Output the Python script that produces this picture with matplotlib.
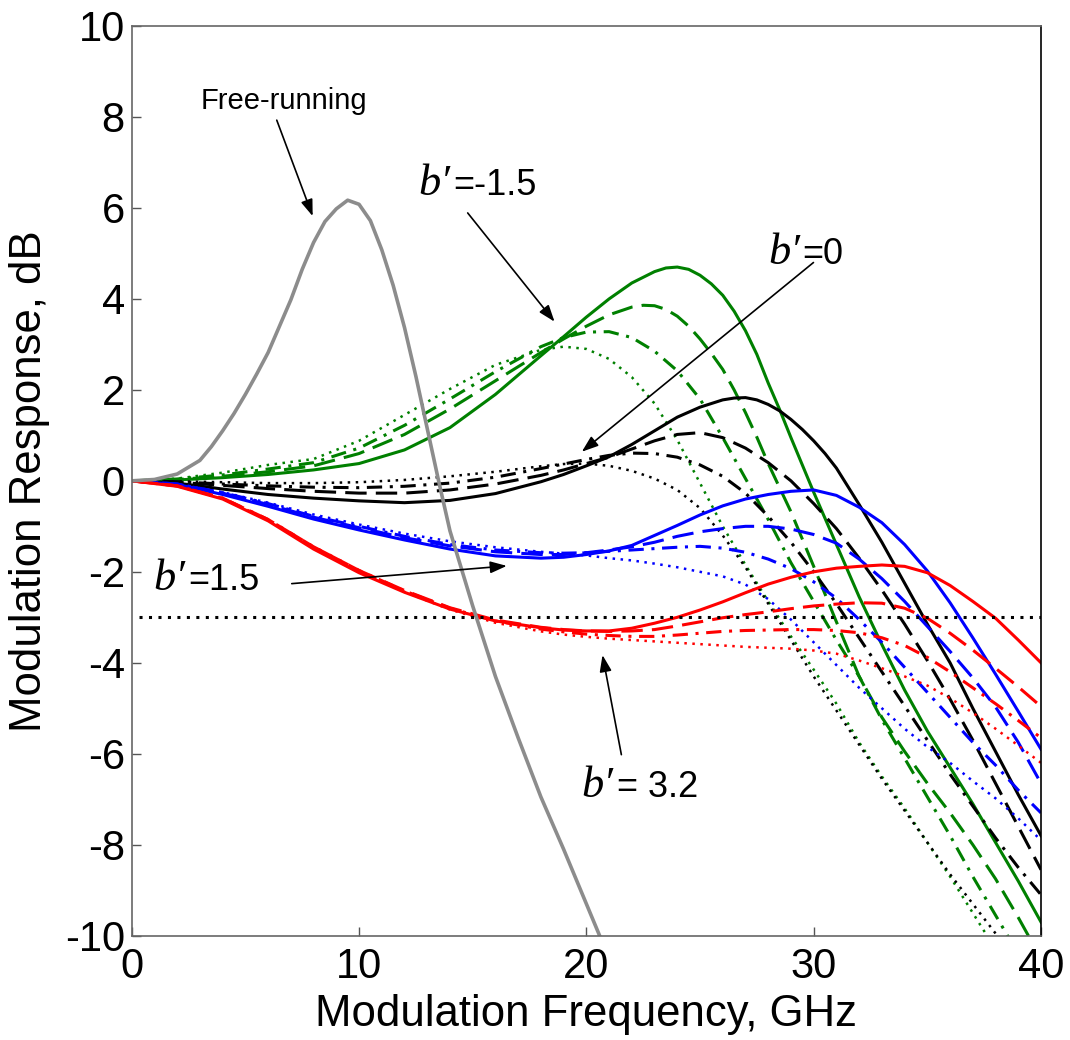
import numpy as np
import matplotlib.pyplot as plt

plt.rcParams['font.family'] = ['Liberation Sans', 'DejaVu Sans']
plt.rcParams['axes.unicode_minus'] = False

# modulation frequency grid (GHz) for the injection-locked curves
freq = [0, 2, 4, 6, 8, 10, 12, 14, 16, 18, 19, 20, 21, 22, 23, 24, 25, 26,
        27, 28, 29, 30, 31, 32, 33, 34, 35, 36, 37, 38, 39, 40]

# b' = -1.5 (green)
green_solid = [0, 0.02, 0.07, 0.14, 0.24, 0.38, 0.68, 1.17, 1.9, 2.75, 3.17, 3.6, 4.0, 4.35,
               4.6, 4.7, 4.52, 4.08, 3.3, 2.15, 0.95, -0.25, -1.4, -2.55, -3.6, -4.6, -5.5,
               -6.3, -7.1, -7.95, -8.8, -9.7]
green_dash = [0, 0.03, 0.1, 0.2, 0.33, 0.6, 1.02, 1.58, 2.2, 2.82, 3.12, 3.4, 3.65, 3.82,
              3.85, 3.62, 3.12, 2.45, 1.5, 0.38, -0.68, -1.88, -3.1, -4.3, -5.2, -5.95,
              -6.65, -7.3, -8.0, -8.75, -9.6, -10.5]
green_dashdot = [0, 0.04, 0.13, 0.26, 0.4, 0.72, 1.22, 1.8, 2.4, 2.95, 3.15, 3.27, 3.28, 3.15,
                 2.85, 2.42, 1.8, 0.95, 0.05, -0.85, -1.8, -2.65, -3.5, -4.3, -5.25, -6.1,
                 -6.95, -7.8, -8.7, -9.55, -10.4, -11.2]
green_dot = [0, 0.05, 0.18, 0.35, 0.48, 0.88, 1.45, 2.02, 2.55, 2.88, 2.95, 2.9, 2.68, 2.28,
             1.7, 0.9, -0.05, -1.0, -1.85, -2.65, -3.42, -4.15, -4.9, -5.75, -6.5, -7.2,
             -7.95, -8.7, -9.5, -10.3, -11.1, -11.9]

# extra readings around the sharp green peaks
green_solid_xf = [23.5, 24.5, 25.5, 26.5, 27.5, 28.5]
green_solid_x = [4.68, 4.65, 4.33, 3.73, 2.78, 1.57]
green_dash_xf = [22.5, 23.5, 24.5, 25.5, 26.5, 27.5]
green_dash_x = [3.86, 3.77, 3.4, 2.8, 2.0, 0.96]

# b' = 0 (black)
black_solid = [0, -0.05, -0.18, -0.3, -0.38, -0.44, -0.48, -0.43, -0.28, -0.02, 0.14, 0.33,
               0.53, 0.8, 1.1, 1.4, 1.62, 1.78, 1.83, 1.68, 1.35, 0.88, 0.28, -0.52, -1.35,
               -2.25, -3.15, -4.0, -5.0, -5.95, -6.9, -7.8]
black_dash = [0, -0.03, -0.1, -0.17, -0.23, -0.27, -0.27, -0.2, -0.07, 0.12, 0.24, 0.38, 0.52,
              0.7, 0.88, 1.02, 1.06, 0.95, 0.72, 0.4, 0.0, -0.5, -1.05, -1.7, -2.4, -3.15,
              -3.95, -4.8, -5.7, -6.65, -7.6, -8.55]
black_dashdot = [0, -0.02, -0.07, -0.11, -0.14, -0.15, -0.12, -0.05, 0.08, 0.27, 0.37, 0.47,
                 0.56, 0.61, 0.6, 0.52, 0.35, 0.1, -0.27, -0.78, -1.35, -2.0, -2.7, -3.45,
                 -4.2, -4.95, -5.7, -6.45, -7.15, -7.85, -8.5, -9.1]
black_dot = [0, -0.01, -0.03, -0.05, -0.05, -0.03, 0.02, 0.1, 0.2, 0.32, 0.37, 0.38, 0.33,
             0.22, 0.05, -0.2, -0.6, -1.2, -1.9, -2.7, -3.5, -4.3, -5.05, -5.8, -6.55, -7.25,
             -7.95, -8.65, -9.3, -9.95, -10.6, -11.2]

black_solid_xf = [26.5, 27.5, 28.5, 29.5, 30.5]
black_solid_x = [1.82, 1.78, 1.54, 1.13, 0.6]

# b' = 1.5 (blue)
blue_solid = [0, -0.08, -0.3, -0.56, -0.84, -1.08, -1.3, -1.5, -1.65, -1.7, -1.68, -1.62,
              -1.54, -1.42, -1.2, -0.98, -0.75, -0.55, -0.4, -0.3, -0.23, -0.2, -0.32, -0.58,
              -0.92, -1.4, -1.98, -2.68, -3.45, -4.25, -5.07, -5.9]
blue_dash = [0, -0.07, -0.27, -0.52, -0.8, -1.03, -1.25, -1.43, -1.56, -1.62, -1.62, -1.58,
             -1.52, -1.45, -1.35, -1.22, -1.12, -1.05, -1.0, -1.0, -1.06, -1.18, -1.37, -1.72,
             -2.15, -2.65, -3.2, -3.75, -4.33, -4.97, -5.75, -6.65]
blue_dashdot = [0, -0.07, -0.26, -0.5, -0.78, -1.0, -1.22, -1.4, -1.52, -1.58, -1.59, -1.58,
                -1.55, -1.52, -1.49, -1.46, -1.44, -1.48, -1.57, -1.72, -1.93, -2.22, -2.58,
                -3.05, -3.55, -4.1, -4.65, -5.2, -5.75, -6.25, -6.8, -7.3]
blue_dot = [0, -0.07, -0.25, -0.48, -0.74, -0.96, -1.16, -1.33, -1.46, -1.56, -1.6, -1.64,
            -1.7, -1.75, -1.82, -1.9, -2.0, -2.1, -2.28, -2.6, -3.05, -3.55, -4.05, -4.55,
            -5.0, -5.45, -5.85, -6.2, -6.6, -6.98, -7.42, -7.9]

# b' = 3.2 (red)
red_solid = [0, -0.12, -0.4, -0.88, -1.5, -2.02, -2.45, -2.82, -3.08, -3.23, -3.28, -3.3,
             -3.3, -3.24, -3.13, -3.0, -2.84, -2.66, -2.46, -2.27, -2.12, -2.0, -1.92, -1.88,
             -1.85, -1.88, -2.02, -2.3, -2.65, -3.02, -3.5, -4.0]
red_dash = [0, -0.11, -0.38, -0.85, -1.45, -1.97, -2.41, -2.79, -3.06, -3.22, -3.27, -3.3,
            -3.31, -3.3, -3.27, -3.19, -3.1, -3.01, -2.94, -2.88, -2.81, -2.75, -2.71, -2.68,
            -2.69, -2.8, -3.02, -3.35, -3.72, -4.12, -4.53, -4.96]
red_dashdot = [0, -0.11, -0.38, -0.85, -1.45, -1.97, -2.42, -2.8, -3.08, -3.26, -3.32, -3.37,
               -3.4, -3.42, -3.42, -3.39, -3.35, -3.31, -3.29, -3.28, -3.27, -3.27, -3.29,
               -3.34, -3.45, -3.62, -3.88, -4.2, -4.55, -4.9, -5.27, -5.65]
red_dot = [0, -0.11, -0.38, -0.86, -1.46, -1.98, -2.44, -2.83, -3.12, -3.31, -3.38, -3.43,
           -3.47, -3.5, -3.53, -3.56, -3.59, -3.62, -3.65, -3.67, -3.69, -3.73, -3.8, -3.95,
           -4.12, -4.3, -4.5, -4.78, -5.1, -5.45, -5.82, -6.2]

# free-running laser (grey)
free_freq = [0, 1, 2, 3, 3.5, 4, 4.5, 5, 5.5, 6, 6.5, 7, 7.5, 8, 8.5, 9, 9.5, 10, 10.5,
             11, 11.5, 12, 12.5, 13, 13.5, 14, 15, 16, 17, 18, 19, 20, 21]
free_resp = [0, 0.03, 0.15, 0.45, 0.75, 1.1, 1.48, 1.9, 2.35, 2.82, 3.4, 3.98, 4.65, 5.24,
             5.7, 5.98, 6.17, 6.08, 5.72, 5.08, 4.3, 3.37, 2.3, 1.15, 0.0, -1.1, -2.75,
             -4.3, -5.65, -6.95, -8.1, -9.3, -10.5]

x_ticks = [0, 10, 20, 30, 40]
y_ticks = [-10, -8, -6, -4, -2, 0, 2, 4, 6, 8, 10]


def merged(vals, xf=(), xv=()):
    f = np.concatenate([freq, xf])
    v = np.concatenate([vals, xv])
    order = np.argsort(f)
    return f[order], v[order]


fig = plt.figure(figsize=(10.7, 10.4), dpi=100)
ax = fig.add_axes([0.1231, 0.1003, 0.8498, 0.8747])

styles = {
    'solid': dict(ls='-', lw=2.2),
    'dash': dict(ls=(0, (7, 3)), lw=2.2),
    'dashdot': dict(ls=(0, (5, 2.5, 1, 2.5)), lw=2.2),
    'dot': dict(ls=(0, (1, 2.2)), lw=1.8),
}
extras = {
    id(green_solid): (green_solid_xf, green_solid_x),
    id(green_dash): (green_dash_xf, green_dash_x),
    id(black_solid): (black_solid_xf, black_solid_x),
}
families = [
    ('#008000', [green_solid, green_dash, green_dashdot, green_dot]),
    ('black', [black_solid, black_dash, black_dashdot, black_dot]),
    ('#0000ff', [blue_solid, blue_dash, blue_dashdot, blue_dot]),
    ('#ff0000', [red_solid, red_dash, red_dashdot, red_dot]),
]
for color, curves in families:
    for name, vals in zip(['solid', 'dash', 'dashdot', 'dot'], curves):
        f, v = merged(vals, *extras.get(id(vals), ((), ())))
        ax.plot(f, v, color=color, **styles[name])

# -3 dB reference
ax.plot([0.3, 40], [-3, -3], color='black', ls=(0, (1, 2.1)), lw=2.2)

ax.plot(free_freq, free_resp, color='#8c8c8c', lw=2.6)

ax.set_xlim(0, 40)
ax.set_ylim(-10, 10)
ax.set_xticks(x_ticks)
ax.set_yticks(y_ticks)
ax.tick_params(direction='in', length=6.5, width=1, labelsize=30, colors='#555555',
               labelcolor='black')
ax.tick_params(axis='x', pad=8)
ax.tick_params(axis='y', pad=5)
for side in ['left', 'bottom', 'top']:
    ax.spines[side].set_color('#666666')
    ax.spines[side].set_linewidth(1.2)
ax.spines['right'].set_linewidth(1.2)

ax.set_xlabel('Modulation Frequency, GHz', fontsize=31.5)
ax.set_ylabel('Modulation Response, dB', fontsize=31.5)
ax.xaxis.set_label_coords(0.5, -0.064)
ax.yaxis.set_label_coords(-0.09, 0.5)

arrow = dict(arrowstyle='-|>,head_length=0.5,head_width=0.18', color='black',
             lw=1.2, shrinkA=0, shrinkB=0, mutation_scale=20)


def b_label(x, y, rest):
    ax.text(x, y, 'b\u2032', fontsize=32, style='italic', va='baseline',
            family=['Liberation Serif', 'DejaVu Serif'])
    ax.annotate(rest, xy=(x, y), xytext=(25, 0), textcoords='offset points',
                fontsize=26, va='baseline')


ax.text(6.69, 8.17, 'Free-running', fontsize=21, ha='center', va='baseline')
ax.annotate('', xy=(7.96, 5.82), xytext=(6.38, 7.93), arrowprops=arrow)

b_label(12.61, 6.29, '=-1.5')
ax.annotate('', xy=(18.6, 3.5), xytext=(14.78, 5.89), arrowprops=arrow)

b_label(27.99, 4.77, '=0')
ax.annotate('', xy=(19.8, 0.64), xytext=(29.99, 4.8), arrowprops=arrow)

b_label(0.95, -2.40, '=1.5')
ax.annotate('', xy=(16.5, -1.87), xytext=(7.04, -2.26), arrowprops=arrow)

b_label(19.8, -6.94, '= 3.2')
ax.annotate('', xy=(20.71, -3.83), xytext=(21.54, -6.02), arrowprops=arrow)

fig.savefig('out.png', dpi=100)
